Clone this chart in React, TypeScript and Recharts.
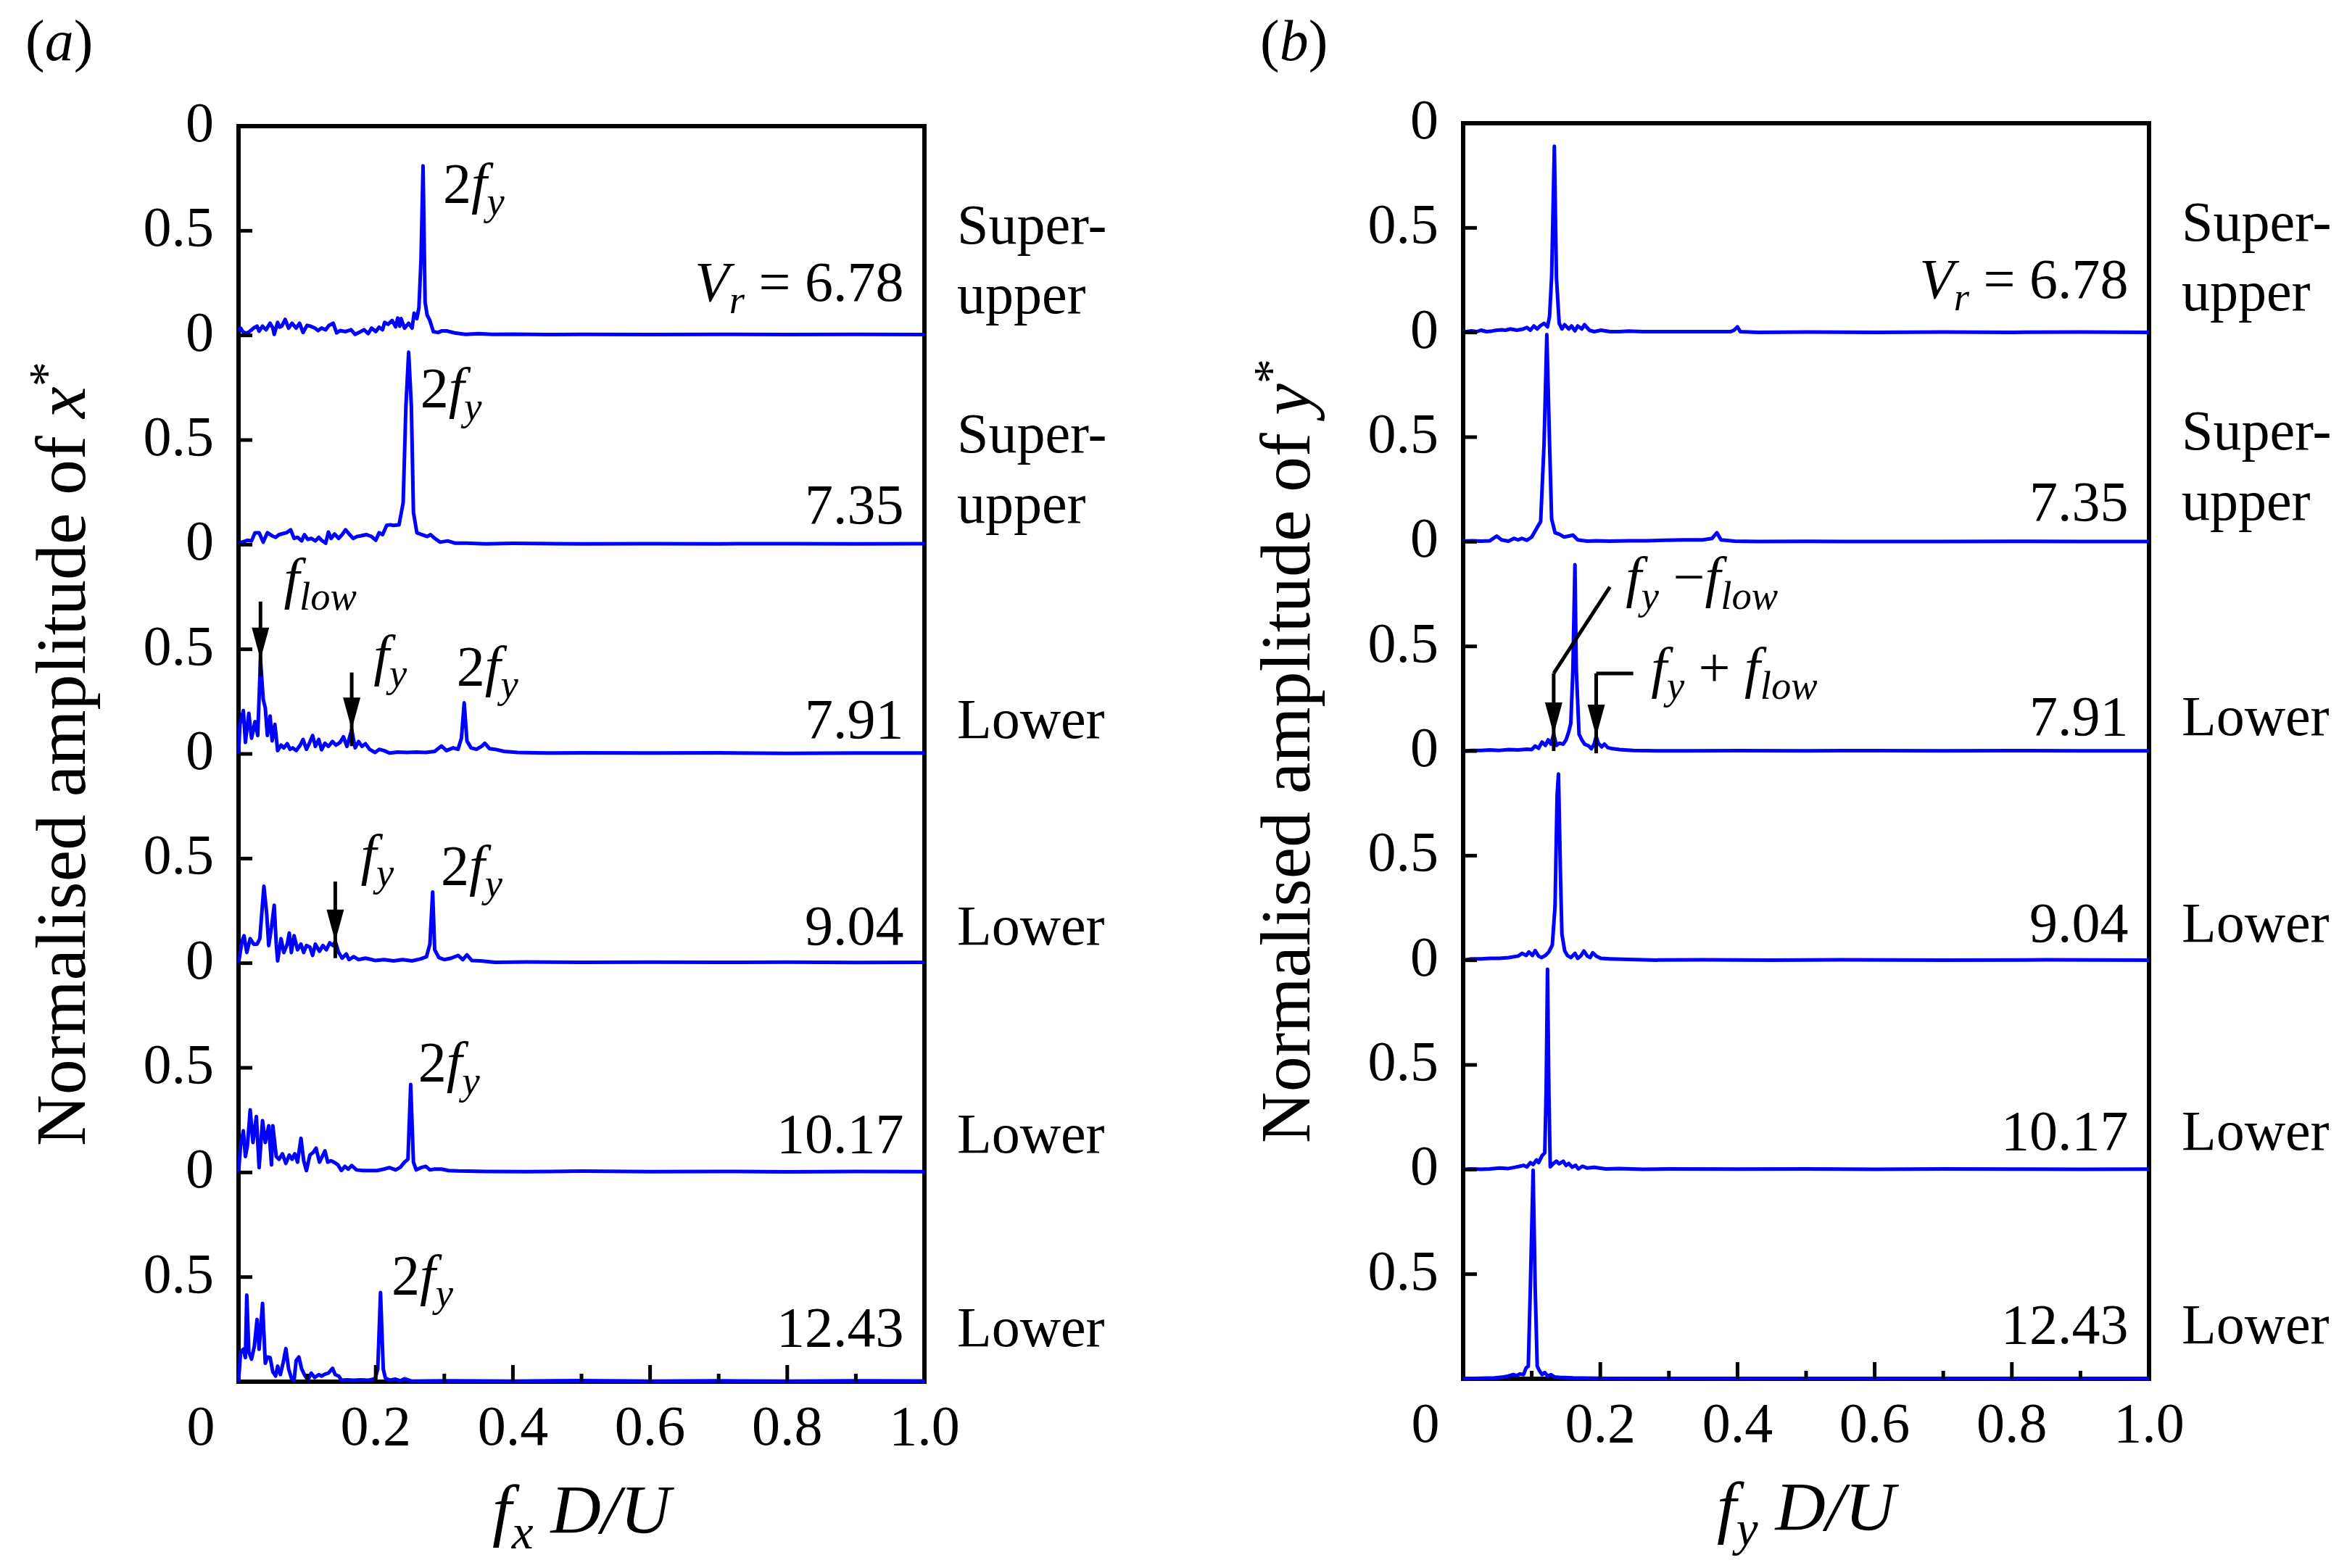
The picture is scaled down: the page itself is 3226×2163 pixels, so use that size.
import React from "react";
import {
  LineChart,
  Line,
  XAxis,
  YAxis,
  ReferenceArea,
  ReferenceLine,
  ReferenceDot,
} from "recharts";

type Pt = [number, number];
type Seg = { t: string; it?: boolean; sub?: boolean; sup?: boolean };

const FONT = "'Liberation Serif', 'Times New Roman', Times, serif";
const BLUE = "#0000ff";

// reduced velocity of each row, top to bottom, and the response branch
const vrLabels = ["6.78", "7.35", "7.91", "9.04", "10.17", "12.43"];
const branches = ["Super-upper", "Super-upper", "Lower", "Lower", "Lower", "Lower"];

const xTicks = [0, 0.1, 0.2, 0.3, 0.4, 0.5, 0.6, 0.7, 0.8, 0.9, 1];
const yTicks = [0, 0.5, 1, 1.5, 2, 2.5, 3, 3.5, 4, 4.5, 5, 5.5, 6];

// streamwise spectra (x*): [f D/U, normalised amplitude]
const xSpec678: Pt[] = [
  [0, 0.02], [0.003, 0.035], [0.006, 0.018], [0.011, 0.01], [0.016, 0.018], [0.022, 0.035],
  [0.027, 0.044], [0.03, 0.02], [0.035, 0.044], [0.04, 0.027], [0.046, 0.058], [0.05, 0.035],
  [0.052, 0.005], [0.057, 0.062], [0.06, 0.04], [0.063, 0.044], [0.068, 0.076], [0.073, 0.035],
  [0.078, 0.058], [0.084, 0.035], [0.089, 0.058], [0.094, 0.014], [0.1, 0.048], [0.105, 0.044],
  [0.111, 0.035], [0.116, 0.023], [0.121, 0.035], [0.127, 0.027], [0.132, 0.048], [0.138, 0.058],
  [0.143, 0.012], [0.148, 0.023], [0.156, 0.018], [0.164, 0.027], [0.17, 0.005], [0.178, 0.018],
  [0.183, 0.027], [0.189, 0.009], [0.194, 0.035], [0.2, 0.018], [0.205, 0.039], [0.21, 0.027],
  [0.213, 0.062], [0.218, 0.053], [0.224, 0.071], [0.229, 0.041], [0.232, 0.083], [0.235, 0.044],
  [0.237, 0.08], [0.242, 0.035], [0.248, 0.058], [0.253, 0.035], [0.256, 0.106], [0.26, 0.08],
  [0.263, 0.133], [0.266, 0.36], [0.269, 0.81], [0.272, 0.159], [0.275, 0.097], [0.279, 0.071],
  [0.284, 0.018], [0.291, 0.014], [0.296, 0.021], [0.304, 0.021], [0.315, 0.012], [0.331, 0.005],
  [0.35, 0.008], [0.37, 0.005], [0.4, 0.006], [0.45, 0.004], [0.5, 0.005], [0.6, 0.004],
  [0.7, 0.005], [0.8, 0.004], [0.9, 0.005], [1.0, 0.004],
];

const xSpec735: Pt[] = [
  [0, 0], [0.005, 0.012], [0.013, 0.021], [0.019, 0.018], [0.024, 0.057], [0.03, 0.057],
  [0.036, 0.012], [0.042, 0.057], [0.049, 0.042], [0.054, 0.035], [0.059, 0.048], [0.065, 0.053],
  [0.07, 0.057], [0.076, 0.071], [0.081, 0.03], [0.086, 0.035], [0.092, 0.018], [0.096, 0.048],
  [0.101, 0.025], [0.106, 0.03], [0.112, 0.018], [0.117, 0.035], [0.121, 0.021], [0.127, 0.007],
  [0.131, 0.06], [0.135, 0.03], [0.14, 0.051], [0.146, 0.03], [0.151, 0.048], [0.156, 0.071],
  [0.162, 0.048], [0.167, 0.03], [0.173, 0.039], [0.178, 0.042], [0.186, 0.048], [0.194, 0.039],
  [0.2, 0.021], [0.205, 0.057], [0.21, 0.048], [0.216, 0.092], [0.221, 0.095], [0.226, 0.092],
  [0.234, 0.095], [0.24, 0.2], [0.244, 0.66], [0.248, 0.92], [0.252, 0.66], [0.255, 0.154],
  [0.26, 0.057], [0.267, 0.048], [0.275, 0.039], [0.28, 0.048], [0.286, 0.03], [0.294, 0.012],
  [0.305, 0.018], [0.316, 0.007], [0.332, 0.007], [0.36, 0.004], [0.4, 0.006], [0.5, 0.004],
  [0.6, 0.005], [0.7, 0.004], [0.8, 0.005], [0.9, 0.004], [1.0, 0.005],
];

const xSpec791: Pt[] = [
  [0, 0], [0.002, 0.141], [0.007, 0.207], [0.01, 0.055], [0.015, 0.194], [0.019, 0.075],
  [0.024, 0.154], [0.028, 0.088], [0.032, 0.451], [0.036, 0.26], [0.039, 0.22], [0.042, 0.088],
  [0.046, 0.181], [0.049, 0.062], [0.053, 0.141], [0.057, 0.016], [0.062, 0.042], [0.066, 0.029],
  [0.071, 0.049], [0.075, 0.022], [0.079, 0.029], [0.084, 0.016], [0.09, 0.042], [0.094, 0.069],
  [0.099, 0.022], [0.103, 0.049], [0.108, 0.088], [0.112, 0.036], [0.117, 0.069], [0.121, 0.02],
  [0.126, 0.051], [0.131, 0.036], [0.137, 0.059], [0.142, 0.042], [0.148, 0.055], [0.153, 0.082],
  [0.158, 0.036], [0.165, 0.115], [0.17, 0.029], [0.175, 0.059], [0.18, 0.036], [0.185, 0.049],
  [0.191, 0.022], [0.199, 0.007], [0.205, 0.022], [0.212, 0.016], [0.22, 0.004], [0.232, 0.009],
  [0.246, 0.007], [0.259, 0.009], [0.273, 0.007], [0.286, 0.012], [0.296, 0.038], [0.303, 0.016],
  [0.313, 0.029], [0.32, 0.022], [0.325, 0.075], [0.329, 0.244], [0.333, 0.062], [0.339, 0.029],
  [0.347, 0.022], [0.355, 0.038], [0.359, 0.051], [0.366, 0.025], [0.374, 0.022], [0.387, 0.012],
  [0.407, 0.007], [0.45, 0.004], [0.5, 0.005], [0.6, 0.004], [0.7, 0.005], [0.8, 0.003],
  [0.9, 0.004], [1.0, 0.004],
];

const xSpec904: Pt[] = [
  [0, 0], [0.005, 0.104], [0.008, 0.131], [0.012, 0.051], [0.017, 0.117], [0.022, 0.091],
  [0.027, 0.091], [0.031, 0.117], [0.037, 0.368], [0.041, 0.237], [0.044, 0.084], [0.048, 0.171],
  [0.052, 0.277], [0.055, 0.091], [0.057, 0.011], [0.062, 0.117], [0.066, 0.051], [0.071, 0.091],
  [0.074, 0.144], [0.077, 0.051], [0.081, 0.131], [0.086, 0.064], [0.091, 0.091], [0.095, 0.051],
  [0.099, 0.084], [0.104, 0.077], [0.108, 0.037], [0.112, 0.091], [0.118, 0.057], [0.123, 0.084],
  [0.128, 0.064], [0.133, 0.097], [0.138, 0.084], [0.141, 0.104], [0.146, 0.051], [0.151, 0.024],
  [0.157, 0.044], [0.161, 0.017], [0.168, 0.031], [0.175, 0.017], [0.185, 0.024], [0.199, 0.013],
  [0.212, 0.017], [0.226, 0.011], [0.239, 0.017], [0.253, 0.011], [0.266, 0.021], [0.274, 0.031],
  [0.279, 0.091], [0.283, 0.34], [0.286, 0.064], [0.292, 0.027], [0.3, 0.017], [0.31, 0.024],
  [0.32, 0.037], [0.327, 0.017], [0.333, 0.04], [0.34, 0.013], [0.353, 0.011], [0.374, 0.004],
  [0.42, 0.006], [0.5, 0.004], [0.6, 0.005], [0.7, 0.004], [0.8, 0.005], [0.9, 0.003], [1.0, 0.004],
];

const xSpec1017: Pt[] = [
  [0, 0], [0.003, 0.129], [0.007, 0.199], [0.01, 0.076], [0.013, 0.129], [0.017, 0.299],
  [0.021, 0.143], [0.026, 0.267], [0.03, 0.023], [0.035, 0.247], [0.039, 0.143], [0.044, 0.223],
  [0.048, 0.036], [0.05, 0.223], [0.055, 0.076], [0.059, 0.063], [0.064, 0.089], [0.069, 0.043],
  [0.074, 0.083], [0.078, 0.063], [0.082, 0.089], [0.086, 0.049], [0.091, 0.163], [0.095, 0.056],
  [0.099, 0.009], [0.104, 0.083], [0.109, 0.096], [0.113, 0.116], [0.118, 0.049], [0.122, 0.076],
  [0.126, 0.103], [0.13, 0.049], [0.135, 0.056], [0.139, 0.049], [0.145, 0.036], [0.15, 0.009],
  [0.155, 0.029], [0.16, 0.016], [0.165, 0.033], [0.172, 0.012], [0.182, 0.009], [0.192, 0.009],
  [0.202, 0.009], [0.212, 0.016], [0.22, 0.023], [0.229, 0.012], [0.236, 0.025], [0.242, 0.049],
  [0.247, 0.063], [0.251, 0.42], [0.255, 0.049], [0.259, 0.012], [0.266, 0.023], [0.273, 0.029],
  [0.279, 0.012], [0.286, 0.016], [0.296, 0.016], [0.306, 0.009], [0.32, 0.007], [0.36, 0.005],
  [0.42, 0.004], [0.5, 0.006], [0.6, 0.004], [0.7, 0.005], [0.8, 0.003], [0.9, 0.005], [1.0, 0.004],
];

const xSpec1243: Pt[] = [
  [0, 0], [0.003, 0.142], [0.007, 0.155], [0.01, 0.115], [0.012, 0.414], [0.015, 0.142],
  [0.019, 0.108], [0.023, 0.169], [0.027, 0.297], [0.03, 0.155], [0.035, 0.374], [0.039, 0.088],
  [0.042, 0.118], [0.046, 0.115], [0.05, 0.047], [0.054, 0.027], [0.057, 0.074], [0.061, 0.034],
  [0.065, 0.09], [0.069, 0.158], [0.073, 0.061], [0.077, 0.018], [0.081, 0.007], [0.084, 0.101],
  [0.088, 0.118], [0.092, 0.061], [0.096, 0.034], [0.101, 0.007], [0.106, 0.041], [0.111, 0.02],
  [0.117, 0.034], [0.121, 0.027], [0.126, 0.036], [0.131, 0.041], [0.137, 0.064], [0.141, 0.034],
  [0.146, 0.027], [0.15, 0.007], [0.158, 0.009], [0.168, 0.007], [0.178, 0.009], [0.189, 0.007],
  [0.199, 0.014], [0.203, 0.061], [0.207, 0.426], [0.211, 0.061], [0.214, 0.018], [0.22, 0.007],
  [0.229, 0.012], [0.236, 0.004], [0.242, 0.014], [0.252, 0.003], [0.3, 0.004], [0.4, 0.003],
  [0.5, 0.005], [0.6, 0.003], [0.7, 0.004], [0.8, 0.003], [0.9, 0.004], [1.0, 0.003],
];

// transverse spectra (y*)
const ySpec678: Pt[] = [
  [0, 0.004], [0.005, 0.004], [0.012, 0.008], [0.02, 0.004], [0.026, 0.011], [0.034, 0.004],
  [0.042, 0.007], [0.049, 0.011], [0.056, 0.013], [0.062, 0.011], [0.069, 0.017], [0.078, 0.011],
  [0.086, 0.015], [0.093, 0.024], [0.098, 0.011], [0.103, 0.031], [0.108, 0.017], [0.112, 0.031],
  [0.118, 0.044], [0.123, 0.027], [0.126, 0.077], [0.129, 0.264], [0.133, 0.89], [0.136, 0.264],
  [0.14, 0.044], [0.144, 0.017], [0.148, 0.037], [0.154, 0.017], [0.158, 0.031], [0.163, 0.008],
  [0.167, 0.031], [0.173, 0.017], [0.177, 0.037], [0.184, 0.011], [0.191, 0.004], [0.201, 0.011],
  [0.214, 0.004], [0.228, 0.004], [0.241, 0.007], [0.262, 0.004], [0.295, 0.004], [0.329, 0.004],
  [0.363, 0.004], [0.39, 0.004], [0.395, 0.011], [0.4, 0.027], [0.404, 0.004], [0.43, 0.001],
  [0.5, 0.002], [0.6, 0.001], [0.7, 0.002], [0.8, 0.001], [0.9, 0.002], [1.0, 0.001],
];

const ySpec735: Pt[] = [
  [0, 0.003], [0.012, 0.005], [0.026, 0.003], [0.039, 0.005], [0.049, 0.027], [0.056, 0.009],
  [0.066, 0.003], [0.074, 0.016], [0.08, 0.009], [0.086, 0.016], [0.093, 0.007], [0.1, 0.023],
  [0.108, 0.069], [0.113, 0.096], [0.118, 0.47], [0.122, 0.99], [0.126, 0.47], [0.129, 0.109],
  [0.134, 0.043], [0.14, 0.036], [0.147, 0.023], [0.154, 0.027], [0.16, 0.032], [0.167, 0.009],
  [0.181, 0.003], [0.194, 0.005], [0.214, 0.003], [0.241, 0.005], [0.268, 0.005], [0.295, 0.007],
  [0.322, 0.009], [0.349, 0.009], [0.363, 0.016], [0.37, 0.043], [0.376, 0.009], [0.396, 0.003],
  [0.43, 0.001], [0.5, 0.002], [0.6, 0.001], [0.7, 0.001], [0.8, 0.002], [0.9, 0.001], [1.0, 0.001],
];

const ySpec791: Pt[] = [
  [0, 0], [0.012, 0.003], [0.026, 0.003], [0.039, 0.005], [0.053, 0.003], [0.066, 0.007],
  [0.08, 0.005], [0.093, 0.009], [0.1, 0.007], [0.105, 0.024], [0.11, 0.013], [0.115, 0.043],
  [0.12, 0.027], [0.124, 0.053], [0.128, 0.033], [0.132, 0.08], [0.136, 0.027], [0.14, 0.037],
  [0.146, 0.033], [0.15, 0.053], [0.154, 0.093], [0.157, 0.133], [0.16, 0.387], [0.163, 0.89],
  [0.165, 0.387], [0.169, 0.08], [0.173, 0.053], [0.177, 0.033], [0.183, 0.024], [0.187, 0.011],
  [0.191, 0.033], [0.194, 0.069], [0.197, 0.037], [0.202, 0.02], [0.206, 0.033], [0.211, 0.016],
  [0.218, 0.011], [0.228, 0.007], [0.248, 0.003], [0.282, 0.001], [0.33, 0.001], [0.4, 0.002],
  [0.5, 0.001], [0.6, 0.002], [0.7, 0.001], [0.8, 0.002], [0.9, 0.001], [1.0, 0.001],
];

const ySpec904: Pt[] = [
  [0, 0], [0.012, 0.007], [0.026, 0.007], [0.039, 0.009], [0.053, 0.009], [0.066, 0.013],
  [0.08, 0.02], [0.086, 0.033], [0.092, 0.023], [0.096, 0.04], [0.101, 0.023], [0.105, 0.046],
  [0.11, 0.02], [0.114, 0.013], [0.12, 0.023], [0.125, 0.04], [0.13, 0.073], [0.134, 0.26],
  [0.137, 0.79], [0.139, 0.89], [0.142, 0.39], [0.144, 0.126], [0.148, 0.046], [0.152, 0.023],
  [0.157, 0.013], [0.163, 0.033], [0.167, 0.009], [0.172, 0.023], [0.176, 0.044], [0.181, 0.02],
  [0.185, 0.013], [0.189, 0.036], [0.194, 0.02], [0.201, 0.009], [0.214, 0.007], [0.241, 0.004],
  [0.282, 0.001], [0.35, 0.002], [0.45, 0.001], [0.55, 0.002], [0.7, 0.001], [0.85, 0.002], [1.0, 0.001],
];

const ySpec1017: Pt[] = [
  [0, 0], [0.012, 0.003], [0.026, 0.001], [0.039, 0.003], [0.053, 0.007], [0.066, 0.005],
  [0.076, 0.011], [0.083, 0.016], [0.088, 0.02], [0.093, 0.013], [0.098, 0.033], [0.102, 0.024],
  [0.107, 0.046], [0.11, 0.033], [0.115, 0.066], [0.119, 0.08], [0.121, 0.37], [0.123, 0.957],
  [0.125, 0.37], [0.127, 0.013], [0.131, 0.027], [0.136, 0.04], [0.14, 0.027], [0.146, 0.04],
  [0.15, 0.02], [0.154, 0.029], [0.159, 0.011], [0.164, 0.02], [0.168, 0.003], [0.174, 0.016],
  [0.181, 0.007], [0.191, 0.011], [0.208, 0.003], [0.228, 0.005], [0.262, 0.001], [0.3, 0.003],
  [0.4, 0.002], [0.5, 0.003], [0.6, 0.001], [0.7, 0.003], [0.8, 0.002], [0.9, 0.001], [1.0, 0.002],
];

const ySpec1243: Pt[] = [
  [0, 0], [0.026, 0.003], [0.046, 0.004], [0.059, 0.009], [0.066, 0.013], [0.073, 0.02],
  [0.078, 0.015], [0.083, 0.023], [0.088, 0.02], [0.092, 0.053], [0.095, 0.06], [0.098, 0.44],
  [0.102, 0.997], [0.105, 0.44], [0.108, 0.06], [0.111, 0.04], [0.115, 0.02], [0.119, 0.03],
  [0.123, 0.013], [0.128, 0.02], [0.133, 0.009], [0.14, 0.007], [0.16, 0.004], [0.194, 0.003],
  [0.228, 0.001], [0.3, 0.002], [0.4, 0.001], [0.5, 0.002], [0.6, 0.001], [0.7, 0.002],
  [0.8, 0.001], [0.9, 0.002], [1.0, 0.001],
];

const xSpectra = [xSpec678, xSpec735, xSpec791, xSpec904, xSpec1017, xSpec1243];
const ySpectra = [ySpec678, ySpec735, ySpec791, ySpec904, ySpec1017, ySpec1243];

// height (in panel amplitude units) of the baseline of the Vr / branch labels
const labelLevel = [0.165, 0.1, 0.075, 0.09, 0.095, 0.17];

// layout
const CHART_H = 2163;
const PLOT_LEFT = 329;
const PLOT_TOP = 174;
const PLOT_W = 946;
const PLOT_H = 1732;
const TXT = 78;

const it = (t: string): Seg => ({ t, it: true });
const sub = (t: string): Seg => ({ t, it: true, sub: true });
const rm = (t: string): Seg => ({ t });

type Note = { panel: number; f: number; a: number; segs: Seg[]; anchor?: "start" | "end"; dx?: number };
type Arrow = { panel: number; pts: Pt[] };

const twoFy = [rm("2"), it("f"), sub("y")];
const fy = [it("f"), sub("y")];

const xNotes: Note[] = [
  { panel: 0, f: 0.298, a: 0.637, segs: twoFy },
  { panel: 1, f: 0.265, a: 0.658, segs: twoFy },
  { panel: 2, f: 0.066, a: 0.75, segs: [it("f"), sub("low")] },
  { panel: 2, f: 0.197, a: 0.38, segs: fy },
  { panel: 2, f: 0.318, a: 0.33, segs: twoFy },
  { panel: 3, f: 0.178, a: 0.43, segs: fy },
  { panel: 3, f: 0.295, a: 0.377, segs: twoFy },
  { panel: 4, f: 0.262, a: 0.436, segs: twoFy },
  { panel: 5, f: 0.223, a: 0.42, segs: twoFy },
];

const xArrows: Arrow[] = [
  { panel: 2, pts: [[0.032, 0.728], [0.032, 0.451]] },
  { panel: 2, pts: [[0.165, 0.389], [0.165, 0.117]] },
  { panel: 3, pts: [[0.141, 0.39], [0.141, 0.104]] },
];

const yNotes: Note[] = [
  { panel: 2, f: 0.237, a: 0.74, segs: [it("f"), sub("y"), rm(" \u2212"), it("f"), sub("low")] },
  { panel: 2, f: 0.274, a: 0.31, segs: [it("f"), sub("y"), rm(" + "), it("f"), sub("low")] },
];

const yArrows: Arrow[] = [
  { panel: 2, pts: [[0.214, 0.784], [0.132, 0.371], [0.132, 0.08]] },
  { panel: 2, pts: [[0.248, 0.371], [0.194, 0.371], [0.194, 0.069]] },
];

function Rich({ x, y, segs, size = TXT, anchor = "start", rotate }: {
  x: number; y: number; segs: Seg[]; size?: number; anchor?: "start" | "middle" | "end"; rotate?: number;
}) {
  let shift = 0;
  const spans = segs.map((s, i) => {
    const target = s.sub ? size * 0.22 : s.sup ? -size * 0.32 : 0;
    const dy = target - shift;
    shift = target;
    return (
      <tspan key={i} dy={dy} fontStyle={s.it ? "italic" : "normal"} fontSize={s.sub || s.sup ? size * 0.7 : size}>
        {s.t}
      </tspan>
    );
  });
  return (
    <text
      x={x}
      y={y}
      fontFamily={FONT}
      fontSize={size}
      textAnchor={anchor}
      fill="#000"
      style={{ whiteSpace: "pre" }}
      transform={rotate ? `rotate(${rotate}, ${x}, ${y})` : undefined}
    >
      {spans}
    </text>
  );
}

const XTick = (props: any) => {
  const { x, y, payload } = props;
  const v = Math.round(payload.value * 10) / 10;
  const major = Math.round(v * 10) % 2 === 0;
  return (
    <g>
      {v > 0 && v < 1 && (
        <line x1={x} x2={x} y1={y} y2={y - (major ? 23 : 11)} stroke="#000" strokeWidth={5} />
      )}
      {major && (
        <text x={v === 0 ? x - 52 : x} y={y + 87} textAnchor="middle" fontFamily={FONT} fontSize={TXT} fill="#000">
          {v === 0 ? "0" : v.toFixed(1)}
        </text>
      )}
    </g>
  );
};

const YTick = (props: any) => {
  const { x, y, payload } = props;
  const v = payload.value;
  const half = Math.abs((v % 1) - 0.5) < 1e-6;
  return (
    <g>
      {v > 0 && v < 6 && <line x1={x} x2={x + 19} y1={y} y2={y} stroke="#000" strokeWidth={5} />}
      {v > 0 && (
        <text x={x - 34} y={y + 21} textAnchor="end" fontFamily={FONT} fontSize={TXT} fill="#000">
          {half ? "0.5" : "0"}
        </text>
      )}
    </g>
  );
};

function Spectra({ width, spectra, variable, notes, arrows }: {
  width: number; spectra: Pt[][]; variable: string; notes: Note[]; arrows: Arrow[];
}) {
  const off = (p: number) => 5 - p;

  // Vr values and branch names beside each row
  const rowNotes: Note[] = [];
  vrLabels.forEach((vr, i) => {
    rowNotes.push({
      panel: i, f: 0.97, a: labelLevel[i], anchor: "end",
      segs: i === 0 ? [it("V"), sub("r"), rm(" = " + vr)] : [rm(vr)],
    });
    if (branches[i] === "Super-upper") {
      rowNotes.push({ panel: i, f: 1, a: 0.44, dx: 45, segs: [rm("Super-")] });
      rowNotes.push({ panel: i, f: 1, a: 0.105, dx: 45, segs: [rm("upper")] });
    } else {
      rowNotes.push({ panel: i, f: 1, a: labelLevel[i], dx: 45, segs: [rm(branches[i])] });
    }
  });

  const allNotes = [...notes, ...rowNotes];

  return (
    <LineChart
      width={width}
      height={CHART_H}
      margin={{ top: PLOT_TOP, right: width - PLOT_LEFT - PLOT_W, bottom: 0, left: 0 }}
    >
      <XAxis
        type="number"
        dataKey="f"
        domain={[0, 1]}
        ticks={xTicks}
        interval={0}
        height={CHART_H - PLOT_TOP - PLOT_H}
        axisLine={false}
        tickLine={false}
        tickSize={0}
        tickMargin={0}
        tick={(p: any) => <XTick {...p} />}
        label={{
          content: () => (
            <Rich
              x={PLOT_LEFT + PLOT_W / 2}
              y={PLOT_TOP + PLOT_H + 209}
              size={96}
              anchor="middle"
              segs={[it("f"), sub(variable), it(" D"), it("/"), it("U")]}
            />
          ),
        }}
      />
      <YAxis
        type="number"
        domain={[0, 6]}
        ticks={yTicks}
        interval={0}
        width={PLOT_LEFT}
        axisLine={false}
        tickLine={false}
        tickSize={0}
        tickMargin={0}
        tick={(p: any) => <YTick {...p} />}
        label={{
          content: () => (
            <Rich
              x={117}
              y={PLOT_TOP + PLOT_H / 2}
              size={98}
              anchor="middle"
              rotate={-90}
              segs={[rm("Normalised amplitude of "), it(variable), { t: "*", sup: true }]}
            />
          ),
        }}
      />
      <ReferenceArea x1={0} x2={1} y1={0} y2={6} fill="none" stroke="#000" strokeWidth={6} ifOverflow="visible" />
      {spectra.map((pts, i) => (
        <Line
          key={i}
          data={pts.map(([f, a]) => ({ f, y: a + off(i) }))}
          dataKey="y"
          type="linear"
          stroke={BLUE}
          strokeWidth={5}
          strokeLinejoin="round"
          dot={false}
          activeDot={false}
          isAnimationActive={false}
        />
      ))}
      {arrows.flatMap((ar, k) =>
        ar.pts.slice(1).map((p, j) => (
          <ReferenceLine
            key={`s${k}-${j}`}
            segment={[
              { x: ar.pts[j][0], y: ar.pts[j][1] + off(ar.panel) },
              { x: p[0], y: p[1] + off(ar.panel) - (j === ar.pts.length - 2 ? 0.08 : 0) },
            ]}
            stroke="#000"
            strokeWidth={5}
          />
        ))
      )}
      {arrows.map((ar, k) => {
        const tip = ar.pts[ar.pts.length - 1];
        return (
          <ReferenceDot
            key={`h${k}`}
            x={tip[0]}
            y={tip[1] + off(ar.panel)}
            r={1}
            shape={(p: any) => (
              <polygon
                points={`${p.cx},${p.cy} ${p.cx - 12},${p.cy - 44} ${p.cx + 12},${p.cy - 44}`}
                fill="#000"
              />
            )}
          />
        );
      })}
      {allNotes.map((n, k) => (
        <ReferenceDot
          key={`n${k}`}
          x={n.f}
          y={n.a + off(n.panel)}
          r={1}
          shape={(p: any) => <Rich x={p.cx + (n.dx || 0)} y={p.cy} segs={n.segs} anchor={n.anchor || "start"} />}
        />
      ))}
    </LineChart>
  );
}

export default function App() {
  return (
    <div
      style={{
        position: "absolute",
        left: 0,
        top: 0,
        width: 3226,
        height: 2163,
        background: "#fff",
        overflow: "hidden",
      }}
    >
      <div style={{ position: "absolute", left: 0, top: 0 }}>
        <Spectra width={1689} spectra={xSpectra} variable="x" notes={xNotes} arrows={xArrows} />
      </div>
      <div style={{ position: "absolute", left: 1689, top: -4 }}>
        <Spectra width={1537} spectra={ySpectra} variable="y" notes={yNotes} arrows={yArrows} />
      </div>
      <svg width={3226} height={200} style={{ position: "absolute", left: 0, top: 0, pointerEvents: "none" }}>
        <Rich x={35} y={83} size={80} segs={[rm("("), it("a"), rm(")")]} />
        <Rich x={1738} y={83} size={80} segs={[rm("("), it("b"), rm(")")]} />
      </svg>
    </div>
  );
}
